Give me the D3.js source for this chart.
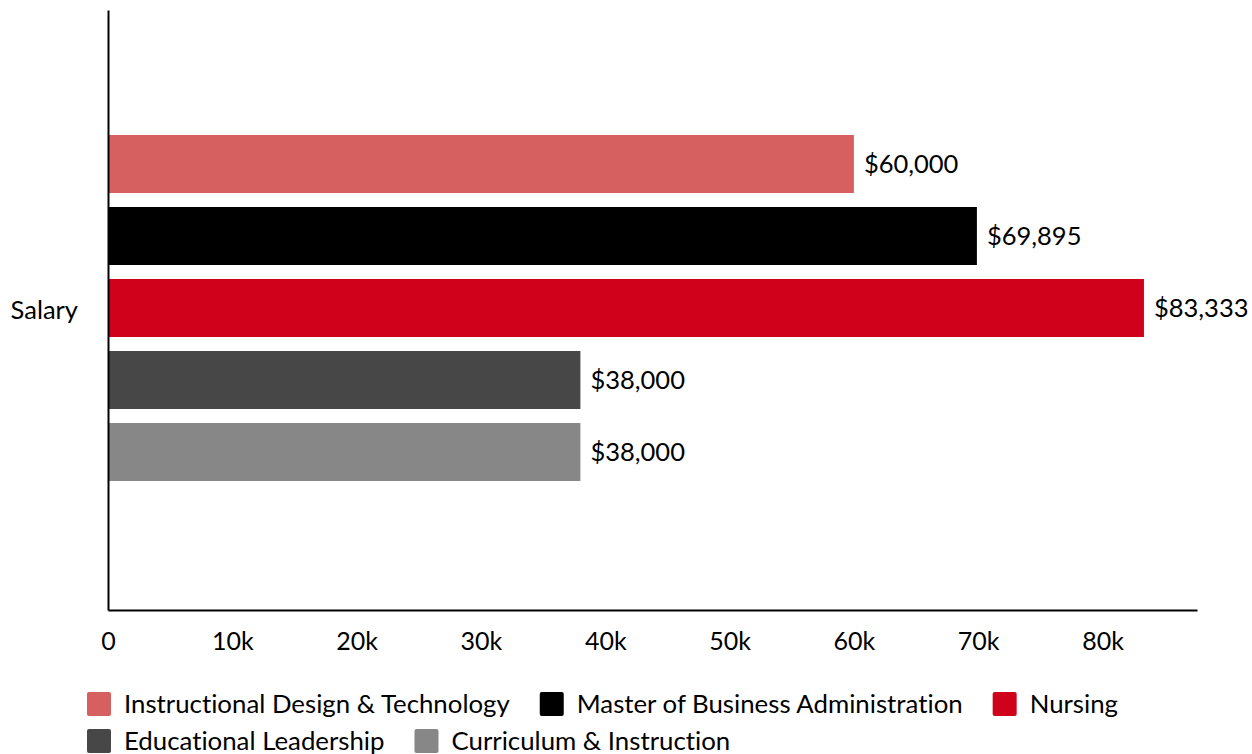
<!DOCTYPE html>
<html><head><meta charset="utf-8">
<script src="https://cdn.jsdelivr.net/npm/d3@7"></script>
<style>body{margin:0;background:#fff;font-family:Lato,sans-serif;} text{font-variant-ligatures:none;font-feature-settings:"liga" 0;}</style>
</head><body><svg id="c" width="1252" height="754"></svg>
<script>
const category = "Salary";
const series = ["Instructional Design & Technology","Master of Business Administration","Nursing","Educational Leadership","Curriculum & Instruction"];
const values = [60000, 69895, 83333, 38000, 38000];
const colors = ["#d66060","#000000","#d0021b","#474747","#878787"];
const tickValues = [0,10000,20000,30000,40000,50000,60000,70000,80000];
const tickLabels = ["0","10k","20k","30k","40k","50k","60k","70k","80k"];

(function(){
const svg = d3.select("#c");
const mLeft = 108, mRight = 1197, mTop = 10, mBottom = 610;
const x = d3.scaleLinear().domain([0, 87600]).range([mLeft, mRight]);
const y0 = d3.scaleBand().domain([category]).range([mTop, mBottom]);
const y1 = d3.scaleBand().domain(series).range([y0(category)+125, y0(category)+125+346]).paddingInner(14/72).paddingOuter(0);

svg.selectAll("rect.bar").data(series).enter().append("rect")
  .attr("x", x(0)).attr("y", d => y1(d)).attr("height", y1.bandwidth())
  .attr("width", (d,i) => x(values[i]) - x(0)).attr("fill", (d,i) => colors[i]);

svg.selectAll("text.val").data(series).enter().append("text")
  .attr("x", (d,i) => x(values[i]) + 10).attr("y", d => y1(d) + y1.bandwidth()/2)
  .attr("dy", "0.35em").attr("font-size", 25.5).attr("fill", "#000")
  .text((d,i) => "$" + d3.format(",")(values[i]));

const xAxis = d3.axisBottom(x).tickValues(tickValues).tickFormat((d,i) => tickLabels[i]).tickSize(0).tickPadding(22);
const gx = svg.append("g").attr("transform", `translate(0,${mBottom})`).call(xAxis);
gx.select(".domain").attr("stroke", "#000").attr("stroke-width", 2);
gx.selectAll("text").attr("font-size", 25).attr("font-family", "Lato").attr("fill", "#000");

const yAxis = d3.axisLeft(y0).tickSize(0).tickPadding(30);
const gy = svg.append("g").attr("transform", `translate(${mLeft},0)`).call(yAxis);
gy.select(".domain").attr("stroke", "#000").attr("stroke-width", 2);
gy.selectAll("text").attr("font-size", 25.5).attr("font-family", "Lato").attr("fill", "#000").attr("dy","0.35em");

const rows = [[0,1,2],[3,4]];
const rowY = [704, 741];
rows.forEach((r, ri) => {
  let cx = 87;
  r.forEach(i => {
    const g = svg.append("g");
    g.append("rect").attr("x", cx).attr("y", rowY[ri]-12).attr("width", 24).attr("height", 24).attr("rx", 2).attr("fill", colors[i]);
    const t = g.append("text").attr("x", cx + 37).attr("y", rowY[ri]).attr("dy", "0.35em")
      .attr("font-size", 25.8).attr("fill", "#000").text(series[i]);
    const w = t.node().getComputedTextLength();
    cx = cx + 37 + w + 30;
  });
});
})();
</script></body></html>
